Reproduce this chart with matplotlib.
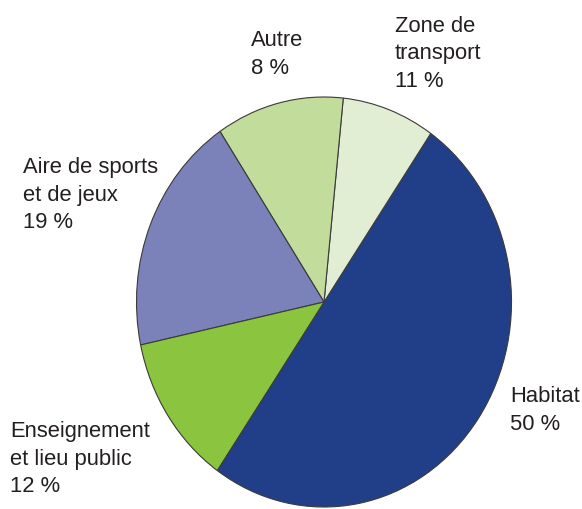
import matplotlib.pyplot as plt

# parts des surfaces (dans l'ordre du tracé, sens anti-horaire)
categories = ['Habitat', 'Autre', 'Zone de transport',
              'Aire de sports et de jeux', 'Enseignement et lieu public']
shares = [50, 8, 11, 19, 12]
label_lines = [
    ['Habitat', '50 %'],
    ['Autre', '8 %'],
    ['Zone de', 'transport', '11 %'],
    ['Aire de sports', 'et de jeux', '19 %'],
    ['Enseignement', 'et lieu public', '12 %'],
]

colors = ['#213f88', '#e1eed3', '#c1dc9b', '#7a82b9', '#8bc43f']
# position du texte (pixels : gauche, ligne de base de la 1re ligne)
label_pos = [(510, 402), (251, 46), (395, 32), (23, 173), (10, 437)]

W, H = 582, 509
fig = plt.figure(figsize=(W / 100, H / 100), dpi=100)
ax = fig.add_axes([0, 0, 1, 1])

ax.pie(shares, colors=colors, startangle=235.3, counterclock=True,
       radius=1, center=(0, 0),
       wedgeprops=dict(edgecolor='#3a3a3a', linewidth=0.8))

# le camembert est un peu étiré verticalement
cx, cy, rx, ry = 324, 302, 187.5, 205
ax.set_aspect('auto')
ax.set_xlim(-cx / rx, (W - cx) / rx)
ax.set_ylim(-(H - cy) / ry, cy / ry)
ax.axis('off')

step = 27.5
for lines, (px, py) in zip(label_lines, label_pos):
    for i, line in enumerate(lines):
        fig.text(px / W, 1 - (py + i * step) / H, line,
                 family=['Liberation Sans', 'DejaVu Sans'], fontsize=15.8,
                 color='#231f20', ha='left', va='baseline')

fig.savefig('out.png', dpi=100, facecolor='white')
